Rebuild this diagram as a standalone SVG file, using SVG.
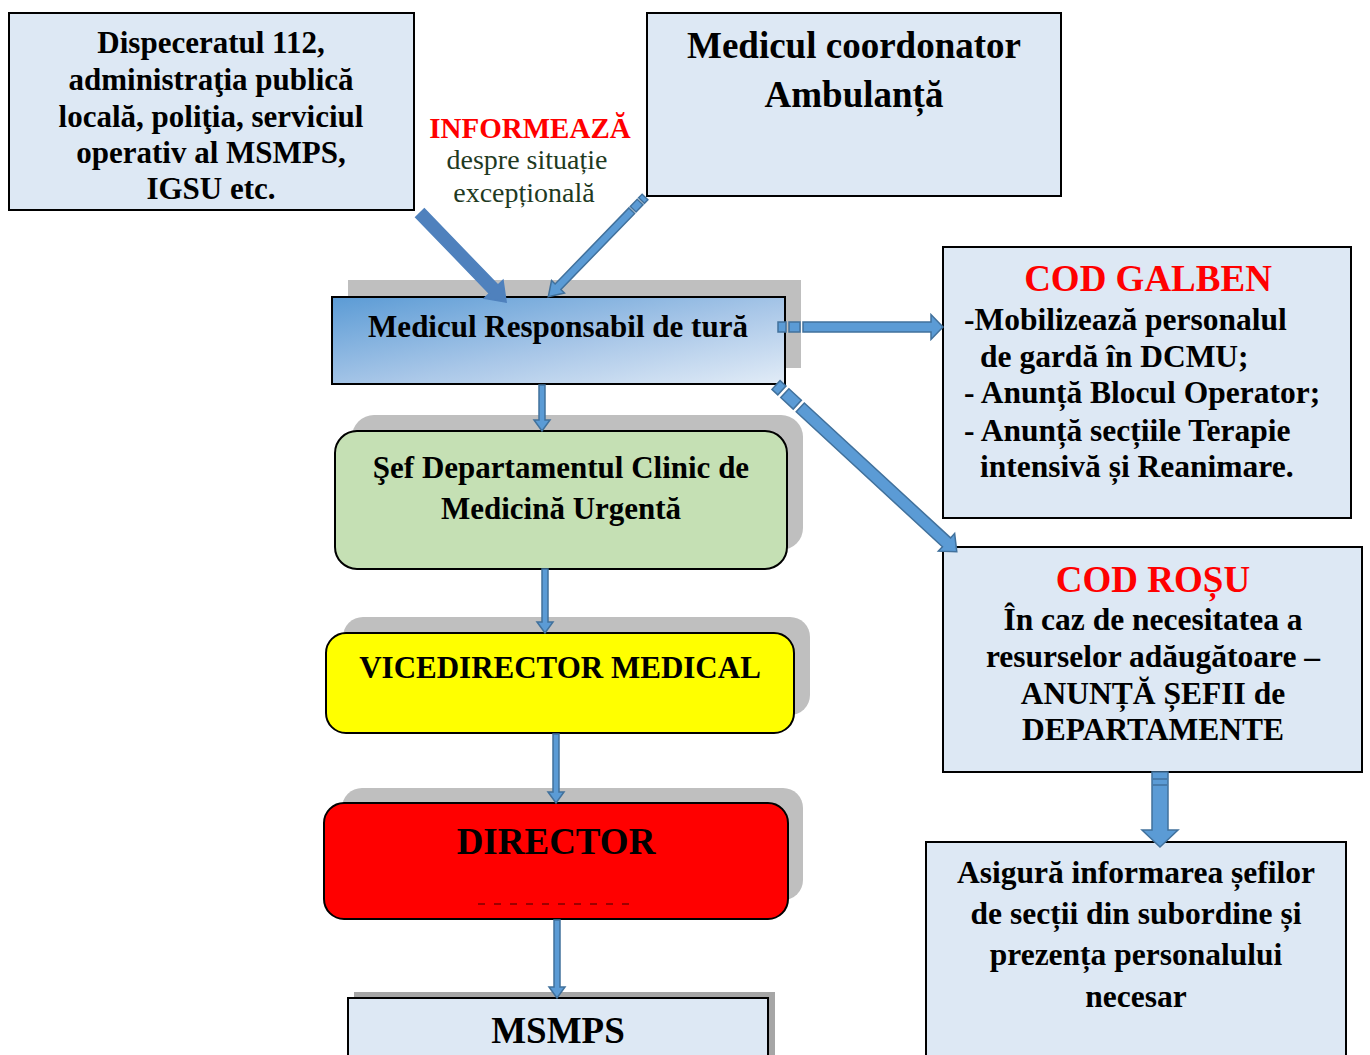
<svg xmlns="http://www.w3.org/2000/svg" width="1370" height="1055" viewBox="0 0 1370 1055">
<defs>
<linearGradient id="gMRT" x1="0" y1="0" x2="1" y2="1">
<stop offset="0" stop-color="#5b9bd5"/>
<stop offset="0.55" stop-color="#a9c7e8"/>
<stop offset="1" stop-color="#e2ecf7"/>
</linearGradient>
</defs>
<style>
.box{fill:#dde8f4;stroke:#000;stroke-width:2}
.sh{fill:#bfbfbf}
.t{font-family:"Liberation Serif","Times New Roman",serif;font-weight:bold;fill:#000;text-anchor:middle}
.tl{font-family:"Liberation Serif","Times New Roman",serif;font-weight:bold;fill:#000}
.red{fill:#ff0000}
.arr{fill:#5b9bd5;stroke:#41719c;stroke-width:1.5}
</style>
<rect width="1370" height="1055" fill="#fff"/>

<g id="dispeceratul">
<rect class="box" x="9" y="13" width="405" height="197"/>
<text class="t" font-size="31" x="211" y="53">Dispeceratul 112,</text>
<text class="t" font-size="31" x="211" y="90">administraţia publică</text>
<text class="t" font-size="31" x="211" y="127">locală, poliţia, serviciul</text>
<text class="t" font-size="31" x="211" y="163">operativ al MSMPS,</text>
<text class="t" font-size="31" x="211" y="199">IGSU etc.</text>
</g>

<g id="coordonator">
<rect class="box" x="647" y="13" width="414" height="183"/>
<text class="t" font-size="37" x="854" y="58">Medicul coordonator</text>
<text class="t" font-size="37" x="854" y="107">Ambulanță</text>
</g>

<g id="informeaza">
<text class="t red" font-size="29" x="530" y="138">INFORMEAZĂ</text>
<text font-family="Liberation Serif,Times New Roman,serif" font-size="28" fill="#1f3a1f" text-anchor="middle" x="527" y="169">despre situație</text>
<text font-family="Liberation Serif,Times New Roman,serif" font-size="28" fill="#1f3a1f" text-anchor="middle" x="524" y="202">excepțională</text>
</g>

<g id="medicul-responsabil">
<rect class="sh" x="348" y="280" width="453" height="88"/>
<rect x="332" y="297" width="453" height="87" fill="url(#gMRT)" stroke="#000" stroke-width="2"/>
<text class="t" font-size="31" x="558" y="337">Medicul Responsabil de tură</text>
</g>

<g id="sef-departament">
<rect class="sh" x="352" y="415" width="451" height="135" rx="22"/>
<rect x="335" y="431" width="452" height="138" rx="22" fill="#c5e0b4" stroke="#000" stroke-width="2"/>
<text class="t" font-size="31" x="561" y="478">Şef Departamentul Clinic de</text>
<text class="t" font-size="31" x="561" y="519">Medicină Urgentă</text>
</g>

<g id="vicedirector">
<rect class="sh" x="343" y="617" width="467" height="98" rx="20"/>
<rect x="326" y="633" width="468" height="100" rx="20" fill="#ffff00" stroke="#000" stroke-width="2"/>
<text class="t" font-size="31" x="560" y="678">VICEDIRECTOR MEDICAL</text>
</g>

<g id="director">
<rect class="sh" x="342" y="788" width="461" height="112" rx="20"/>
<rect x="324" y="803" width="464" height="116" rx="20" fill="#ff0000" stroke="#000" stroke-width="2"/>
<text class="t" font-size="37" x="556" y="854">DIRECTOR</text>
<line x1="478" y1="904" x2="635" y2="904" stroke="#3a0000" stroke-width="1.2" stroke-dasharray="7 9"/>
</g>

<g id="msmps">
<rect x="354" y="992" width="421" height="70" fill="#a6a6a6"/>
<rect class="box" x="348" y="998" width="420" height="70"/>
<text class="t" font-size="37" x="558" y="1043">MSMPS</text>
</g>

<g id="cod-galben">
<rect class="box" x="943" y="247" width="408" height="271"/>
<text class="t red" font-size="37" x="1148" y="291">COD GALBEN</text>
<text class="tl" font-size="31.5" x="964" y="330">-Mobilizează personalul</text>
<text class="tl" font-size="31.5" x="980" y="367">de gardă în DCMU;</text>
<text class="tl" font-size="31.5" x="964" y="403">- Anunță Blocul Operator;</text>
<text class="tl" font-size="31.5" x="964" y="441">- Anunță secțiile Terapie</text>
<text class="tl" font-size="31.5" x="980" y="477">intensivă și Reanimare.</text>
</g>

<g id="cod-rosu">
<rect class="box" x="943" y="547" width="419" height="225"/>
<text class="t red" font-size="37" x="1153" y="592">COD ROȘU</text>
<text class="t" font-size="31.5" x="1153" y="630">În caz de necesitatea a</text>
<text class="t" font-size="31.5" x="1153" y="667">resurselor adăugătoare –</text>
<text class="t" font-size="31.5" x="1153" y="704">ANUNȚĂ ȘEFII de</text>
<text class="t" font-size="31.5" x="1153" y="740">DEPARTAMENTE</text>
</g>

<g id="asigura">
<rect class="box" x="926" y="842" width="420" height="230"/>
<text class="t" font-size="31.5" x="1136" y="883">Asigură informarea șefilor</text>
<text class="t" font-size="31.5" x="1136" y="924">de secții din subordine și</text>
<text class="t" font-size="31.5" x="1136" y="965">prezența personalului</text>
<text class="t" font-size="31.5" x="1136" y="1007">necesar</text>
</g>

<g id="connectors">
<!-- Dispeceratul -> MRT -->
<g transform="translate(420,213) rotate(46)">
<path class="arr" d="M0,-6 H106 V-13 L124,0 L106,13 V6 H0 Z" style="fill:#4f81bd;stroke:#4f81bd"/>
</g>
<!-- Medicul coordonator -> MRT -->
<g transform="translate(645,197) rotate(134.1)">
<rect class="arr" x="0" y="-4" width="5" height="8"/>
<rect class="arr" x="7" y="-4" width="10" height="8"/>
<path class="arr" d="M19,-4 H125 V-9 L139,0 L125,9 V4 H19 Z"/>
</g>
<!-- MRT -> Sef -->
<path class="arr" d="M539,385 H545 V420 H550 L542,431 L534,420 H539 Z"/>
<!-- Sef -> Vicedirector -->
<path class="arr" d="M542,569 H548 V622 H553 L545,633 L537,622 H542 Z"/>
<!-- Vicedirector -> Director -->
<path class="arr" d="M553,734 H559 V792 H564 L556,803 L548,792 H553 Z"/>
<!-- Director -> MSMPS -->
<path class="arr" d="M554,920 H560 V987 H565 L557,998 L549,987 H554 Z"/>
<!-- MRT -> COD GALBEN -->
<rect class="arr" x="778" y="322" width="8" height="10"/>
<rect class="arr" x="789" y="322" width="11" height="10"/>
<path class="arr" d="M803,322 H931 V314.5 L943,327 L931,339.5 V332 H803 Z"/>
<!-- MRT -> COD ROSU -->
<g transform="translate(776,385) rotate(42.7)">
<rect class="arr" x="0" y="-6" width="8" height="12"/>
<rect class="arr" x="12" y="-6" width="17" height="12"/>
<path class="arr" d="M33,-6 H232 V-12 L246,0 L232,12 V6 H33 Z"/>
</g>
<!-- COD ROSU -> Asigura -->
<path class="arr" d="M1152,772 H1168 V830 H1178 L1160,847 L1142,830 H1152 Z"/>
<line x1="1153" y1="779" x2="1167" y2="779" stroke="#41719c" stroke-width="1.5"/>
<line x1="1153" y1="785" x2="1167" y2="785" stroke="#41719c" stroke-width="1.5"/>
</g>
</svg>
